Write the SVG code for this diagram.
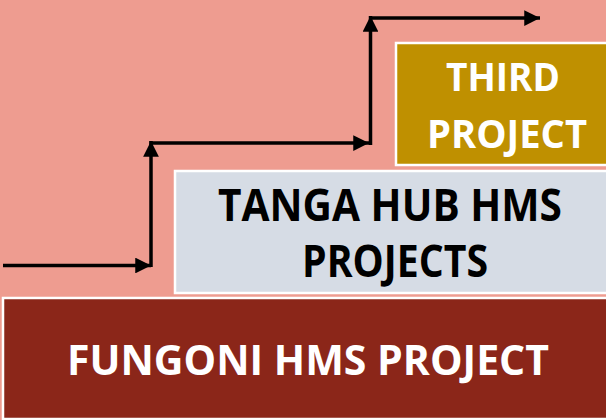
<svg xmlns="http://www.w3.org/2000/svg" width="606" height="420" viewBox="0 0 606 420">
<style>
.box{stroke:#FFFFFF;stroke-width:2.5}
.t{font-family:"Open Sans","Liberation Sans",sans-serif;font-weight:bold;text-anchor:middle}
.c{fill:none;stroke:#000000;stroke-width:3.5}
</style>
<defs>
<marker id="ah" viewBox="0 0 10 10" refX="10" refY="5" markerWidth="4.5" markerHeight="4.5" orient="auto" markerUnits="strokeWidth">
<path d="M0,0 L10,5 L0,10 z" fill="#000000"/>
</marker>
</defs>
<rect x="0" y="0" width="606" height="420" fill="#EE9C90"/>
<g id="fungoni">
<rect class="box" x="3" y="298" width="606" height="121" fill="#8B2619"/>
<text class="t" x="308" y="375" font-size="42" fill="#FFFFFF" textLength="482" lengthAdjust="spacingAndGlyphs">FUNGONI HMS PROJECT</text>
</g>
<g id="tanga">
<rect class="box" x="175" y="171" width="434" height="122" fill="#D6DCE5"/>
<text class="t" x="390" y="221" font-size="44" fill="#000000" textLength="344" lengthAdjust="spacingAndGlyphs">TANGA HUB HMS</text>
<text class="t" x="395" y="277" font-size="44" fill="#000000" textLength="186" lengthAdjust="spacingAndGlyphs">PROJECTS</text>
</g>
<g id="third">
<rect class="box" x="396" y="43" width="213" height="122" fill="#BF9000"/>
<text class="t" x="503" y="91" font-size="40" fill="#FFFFFF" textLength="114" lengthAdjust="spacingAndGlyphs">THIRD</text>
<text class="t" x="507" y="148" font-size="40" fill="#FFFFFF" textLength="160" lengthAdjust="spacingAndGlyphs">PROJECT</text>
</g>
<g id="connectors">
<line class="c" x1="3" y1="265.5" x2="151" y2="265.5" marker-end="url(#ah)"/>
<line class="c" x1="151" y1="267" x2="151" y2="141" marker-end="url(#ah)"/>
<line class="c" x1="149.5" y1="143" x2="369" y2="143" marker-end="url(#ah)"/>
<line class="c" x1="370.5" y1="145" x2="370.5" y2="16" marker-end="url(#ah)"/>
<line class="c" x1="369" y1="18" x2="540" y2="18" marker-end="url(#ah)"/>
</g>
</svg>
